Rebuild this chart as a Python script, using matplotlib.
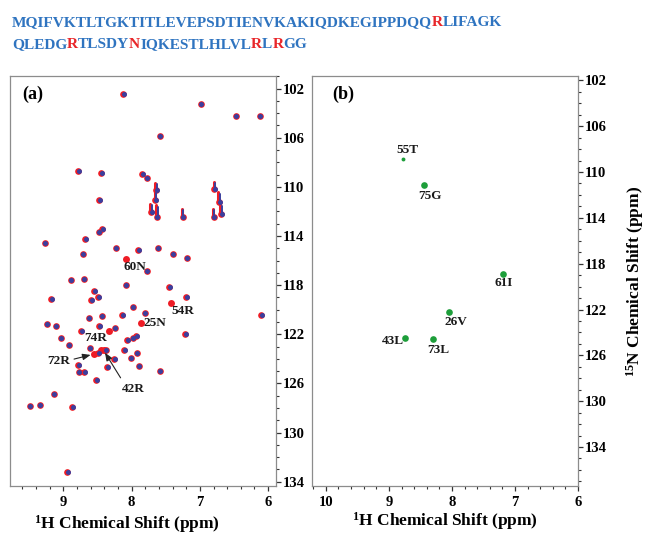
import matplotlib
matplotlib.use("Agg")
import numpy as np
import matplotlib.pyplot as plt
from matplotlib import font_manager, ft2font
from matplotlib.backends.backend_agg import get_hinting_flag
from matplotlib.ticker import MultipleLocator

plt.rcParams['font.family'] = ['Liberation Serif', 'DejaVu Serif']
plt.rcParams['font.weight'] = 'bold'
plt.rcParams['axes.labelweight'] = 'bold'
plt.rcParams['mathtext.fontset'] = 'custom'
plt.rcParams['mathtext.rm'] = 'Liberation Serif:bold'
plt.rcParams['mathtext.bf'] = 'Liberation Serif:bold'
plt.rcParams['mathtext.it'] = 'Liberation Serif:bold:italic'
plt.rcParams['mathtext.default'] = 'rm'

# sequence, red letters are the mutated/perturbed residues
seq1 = [("MQIFVKTLTGKTITLEVEPSDTIENVKAKIQDKEGIPPDQQ", 0), ("R", 1), ("LIFAGK", 0)]
seq2 = [("QLEDG", 0), ("R", 1), ("TLSDY", 0), ("N", 1), ("IQKESTLHLVL", 0),
        ("R", 1), ("L", 0), ("R", 1), ("GG", 0)]

# panel (a): peaks seen in both spectra (1H, 15N) and N-extent of streaky peaks
h_both = [8.12, 6.99, 6.475, 6.12, 7.59, 8.78, 8.445, 7.84, 7.78, 7.64,
          7.65, 7.715, 7.63, 7.25, 6.79, 6.72, 6.80, 6.69, 8.47, 9.27,
          8.675, 8.48, 8.43, 8.235, 7.905, 7.62, 7.40, 7.195, 8.715, 7.78,
          8.89, 8.70, 8.085, 7.445, 9.18, 8.55, 8.59, 8.49, 7.20, 6.105,
          7.985, 7.81, 8.435, 8.135, 8.625, 9.245, 9.11, 8.47, 8.245, 8.74,
          9.04, 8.92, 8.065, 7.93, 7.98, 8.615, 8.105, 8.38, 8.49, 7.925,
          8.25, 8.01, 8.78, 8.775, 8.69, 8.355, 7.895, 7.59, 8.515, 9.14,
          9.49, 9.345, 8.87, 8.94, 7.215]
n_both = [102.46, 103.25, 104.25, 104.25, 105.85, 108.73, 108.89, 108.94, 109.24, 110.25,
          111.10, 112.06, 112.47, 112.47, 110.16, 111.25, 112.47, 112.20, 111.10, 114.59,
          114.23, 113.69, 113.45, 114.96, 115.12, 115.00, 115.45, 115.80, 115.48, 116.84,
          117.55, 117.50, 117.99, 118.11, 119.11, 118.49, 119.17, 118.98, 118.98, 120.41,
          119.79, 120.25, 120.53, 120.44, 120.66, 121.20, 121.34, 121.34, 121.47, 121.75,
          122.29, 122.91, 122.45, 122.10, 122.29, 123.10, 123.24, 123.24, 123.53, 123.50,
          124.02, 123.91, 124.48, 125.03, 125.03, 124.68, 124.56, 125.00, 125.68, 126.84,
          127.87, 127.77, 127.93, 133.22, 121.96]
n_tail = [0, 0, 0, 0, 0, 0, 0, 0, 0, 0.6,
          0.8, 0.7, 1.0, 0.7, 0.6, 0.8, 0.7, 0.8, 0, 0,
          0, 0, 0, 0, 0, 0, 0, 0, 0, 0,
          0, 0, 0, 0, 0, 0, 0, 0, 0, 0,
          0, 0, 0, 0, 0, 0, 0, 0, 0, 0,
          0, 0, 0, 0, 0, 0, 0, 0, 0, 0,
          0, 0, 0, 0, 0, 0, 0, 0, 0, 0,
          0, 0, 0, 0, 0]

# peaks only in the red spectrum
h_red = [8.08, 7.42, 7.855, 8.45, 8.41, 8.55, 8.335]
n_red = [115.86, 119.47, 121.09, 123.24, 123.30, 123.64, 121.75]

# panel (b)
h_green = [8.77, 8.44, 7.19, 8.05, 8.75, 8.30]
n_green = [108.9, 111.1, 118.93, 122.22, 124.45, 124.57]
green_lab = ["55T", "75G", "61I", "26V", "43L", "73L"]

blue_txt = "#2f74c0"
red_txt = "#e8262a"
red_pk = "#ee1c25"
blue_pk = "#3b3f9e"
green_pk = "#1d9e3a"
frame = "#8c8c8c"

fig = plt.figure(figsize=(6.45, 5.34), dpi=100)
W, H = 645.0, 534.0

ax1 = fig.add_axes([10 / W, 48 / H, 266 / W, 410 / H])
ax2 = fig.add_axes([312 / W, 48 / H, 266 / W, 410 / H])

# ---- panel (a)
for h, n, t in zip(h_both, n_both, n_tail):
    if t > 0:
        ax1.plot([h + 0.01, h + 0.01], [n, n - t], color=red_pk, lw=2.2, solid_capstyle='round', zorder=2)
        ax1.plot([h - 0.01, h - 0.01], [n, n - t * 0.8], color=blue_pk, lw=1.4, solid_capstyle='round', zorder=3)
ax1.plot(h_both, n_both, "o", color=red_pk, ms=4.8, mew=0, zorder=2)
ax1.plot(h_red, n_red, "o", color=red_pk, ms=5.0, mew=0, zorder=2)
ax1.plot([h - 0.008 for h in h_both], n_both, "o", color=blue_pk, ms=3.6, mew=0, zorder=3)

lab_kw = dict(fontsize=9.5, fontweight='bold', color='#1a1a1a', zorder=5)
ax1.text(7.95, 116.5, "60N", ha='center', va='center', **lab_kw)
ax1.text(7.41, 120.1, "54R", ha='left', va='center', **lab_kw)
ax1.text(7.83, 121.1, "25N", ha='left', va='center', **lab_kw)
ax1.text(8.52, 122.3, "74R", ha='center', va='center', **lab_kw)
ax1.annotate("72R", xy=(8.58, 123.65), xytext=(9.07, 124.2), ha='center', va='center',
             arrowprops=dict(arrowstyle='-|>,head_length=0.5,head_width=0.2', color='#222222',
                             lw=0.8, relpos=(1, 0.6), shrinkA=1, shrinkB=1), **lab_kw)
ax1.annotate("42R", xy=(8.40, 123.4), xytext=(7.98, 126.45), ha='center', va='center',
             arrowprops=dict(arrowstyle='-|>,head_length=0.5,head_width=0.2', color='#222222',
                             lw=0.8, relpos=(0.1, 1), shrinkA=2, shrinkB=1), **lab_kw)

ax1.set_xlim(9.78, 5.885)
ax1.set_ylim(134.35, 100.97)
ax1.xaxis.set_major_locator(MultipleLocator(1))
ax1.xaxis.set_minor_locator(MultipleLocator(0.2))
ax1.yaxis.set_minor_locator(MultipleLocator(1))
ax1.set_yticks(range(102, 135, 4))
ax1.text(0.045, 0.955, "(a)", transform=ax1.transAxes, fontsize=13, fontweight='bold', va='center')
ax1.set_xlabel("$^{1}$H Chemical Shift (ppm)", fontsize=12.5, fontweight='bold')
ax1.xaxis.set_label_coords(0.44, -0.066)

# ---- panel (b)
ax2.plot(h_green[:1], n_green[:1], "o", color=green_pk, ms=2.8, mew=0)
ax2.plot(h_green[1:], n_green[1:], "o", color=green_pk, ms=4.8, mew=0)
g_pos = [(8.71, 108.1), (8.35, 112.1), (7.18, 119.7), (7.93, 123.1), (8.93, 124.75), (8.21, 125.55)]
for lab, (x, y) in zip(green_lab, g_pos):
    ax2.text(x, y, lab, ha='center', va='center', **lab_kw)

ax2.set_xlim(10.22, 6.0)
ax2.set_ylim(137.4, 101.62)
ax2.xaxis.set_major_locator(MultipleLocator(1))
ax2.xaxis.set_minor_locator(MultipleLocator(0.2))
ax2.yaxis.set_minor_locator(MultipleLocator(1))
ax2.set_yticks(range(102, 135, 4))
ax2.text(0.075, 0.955, "(b)", transform=ax2.transAxes, fontsize=13, fontweight='bold', va='center')
ax2.set_xlabel("$^{1}$H Chemical Shift (ppm)", fontsize=12.5, fontweight='bold')
ax2.xaxis.set_label_coords(0.5, -0.06)
ax2.yaxis.set_label_position('right')
ax2.set_ylabel("$^{15}$N Chemical Shift (ppm)", fontsize=12.5, fontweight='bold', rotation=90)
ax2.yaxis.set_label_coords(1.175, 0.5)

for ax in (ax1, ax2):
    for sp in ax.spines.values():
        sp.set_color(frame)
        sp.set_linewidth(0.9)
    ax.yaxis.tick_right()
    ax.tick_params(axis='both', which='major', direction='out', length=3.5, width=0.9,
                   color='#333333', labelsize=10.5, pad=1.5)
    ax.tick_params(axis='both', which='minor', direction='out', length=2.2, width=0.8, color='#333333')
    ax.tick_params(axis='x', which='major', pad=4)
    for lb in ax.get_xticklabels() + ax.get_yticklabels():
        lb.set_fontweight('bold')

# ---- sequence header: pen positions from the same FreeType layout Agg uses,
# each coloured run drawn where it would sit inside the whole line
fpath = font_manager.findfont(font_manager.FontProperties(family='Liberation Serif', weight='bold'))
hf = plt.rcParams['text.hinting_factor']
ft = ft2font.FT2Font(fpath, hinting_factor=hf)


def layout(line, size):
    ft.set_size(size, 100)
    xys = np.asarray(ft.set_text(line, 0.0, flags=get_hinting_flag()), dtype=float).reshape(-1, 2)
    ink = ft.get_width_height()[0] / 64.0
    raw = xys[:, 0]
    # pick the unit of the pen positions (plain 26.6, or 26.6 in the hinted space)
    ft.set_text(line[-1], 0.0, flags=get_hinting_flag())
    last_w = ft.get_width_height()[0] / 64.0
    cands = [raw / 64.0, raw / 64.0 / hf]
    pen = min(cands, key=lambda p: abs(p[-1] + last_w - ink))
    return pen, ink


line1_px = 493.0  # width of the first line in the reference
full1 = "".join(s for s, _ in seq1)
seq_size = 11.0
seq_size *= line1_px / layout(full1, seq_size)[1]


def draw_seq(parts, x0, y0):
    line = "".join(s for s, _ in parts)
    pen, _ = layout(line, seq_size)
    i = 0
    for s, red in parts:
        fig.text((x0 + pen[i]) / W, 1 - y0 / H, s, color=red_txt if red else blue_txt,
                 fontsize=seq_size, fontweight='bold', va='baseline', ha='left')
        i += len(s)


draw_seq(seq1, 12, 26.5)
draw_seq(seq2, 12, 48.5)

fig.savefig("out.png", dpi=100)
